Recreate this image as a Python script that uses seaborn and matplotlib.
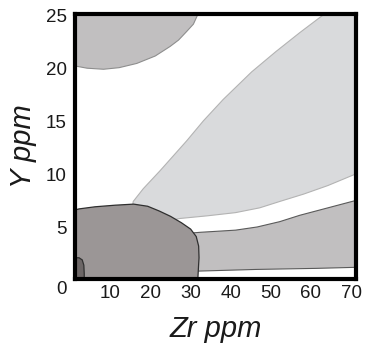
import numpy as np
import matplotlib
matplotlib.use("Agg")
import matplotlib.pyplot as plt
import matplotlib.transforms as mtransforms
import seaborn as sns

# field outlines (Zr ppm, Y ppm)
light_zr = [62.3, 70, 70, 63, 57, 51, 46, 40, 33, 26.2, 22, 14.0, 14.5, 17.0, 21.2, 27.8, 32, 36.9, 44, 50, 56]
light_y = [25, 25, 9.9, 8.8, 8.0, 7.3, 6.7, 6.25, 5.95, 5.7, 5.4, 6.0, 7.3, 8.5, 10.2, 13.0, 14.9, 16.9, 19.5, 21.4, 23.2]

band_zr = [28, 31.3, 40, 45.4, 51, 56, 63, 70, 70, 60, 45, 31.3, 28]
band_y = [4.3, 4.4, 4.6, 4.9, 5.4, 6.0, 6.7, 7.4, 1.1, 1.0, 0.9, 0.75, 0.7]

top_zr = [0, 30.7, 29.5, 27.8, 25.8, 23.7, 20, 15.4, 11, 7.1, 3, 0]
top_y = [25, 25, 24.0, 23.3, 22.5, 21.9, 21.0, 20.3, 19.9, 19.75, 19.85, 20.06]

dark_zr = [0, 0, 1, 5, 10, 14.6, 18.1, 21, 23.8, 26.5, 28.8, 30.2, 30.8, 30.9, 30.8, 30.6]
dark_y = [0, 6.5, 6.6, 6.8, 6.95, 7.05, 6.85, 6.4, 5.9, 5.3, 4.7, 4.0, 3.1, 2.0, 1.4, 0]

tiny_zr = [0, 0, 1, 1.8, 2.2, 2.3, 2.3]
tiny_y = [0, 2.0, 2.0, 1.8, 1.3, 0.5, 0]

xticks = [10, 20, 30, 40, 50, 60, 70]
yticks = [0, 5, 10, 15, 20, 25]

sns.set_theme(style="white")
plt.rcParams['font.family'] = ['Liberation Sans', 'DejaVu Sans']

fig = plt.figure(figsize=(3.65, 3.56), dpi=100)
ax = fig.add_axes([75 / 365, 77 / 356, 281 / 365, 265.5 / 356])

ax.fill(light_zr, light_y, facecolor="#d9dadc", edgecolor="#b3b3b3", linewidth=0.8, zorder=1)
ax.fill(band_zr, band_y, facecolor="#c1bfc0", edgecolor="#5a5a5a", linewidth=0.8, zorder=2)
ax.fill(top_zr, top_y, facecolor="#c1bfc0", edgecolor="#8e8e8e", linewidth=0.8, zorder=2)
ax.fill(dark_zr, dark_y, facecolor="#9b9696", edgecolor="#2f2f2f", linewidth=0.9, zorder=3)
ax.fill(tiny_zr, tiny_y, facecolor="#6c6666", edgecolor="#2f2f2f", linewidth=0.9, zorder=4)

ax.set_xlim(0, 70)
ax.set_ylim(0, 25)
ax.set_xticks(xticks)
ax.set_yticks(yticks)
ax.tick_params(axis='both', length=0, labelsize=13.5, colors='#1a1a1a')
ax.tick_params(axis='x', pad=4)
ax.tick_params(axis='y', pad=6)

# labels sit a little left / low of their ticks in the original
for lab in ax.get_xticklabels():
    lab.set_transform(lab.get_transform() + mtransforms.ScaledTranslation(-5 / 100, 0, fig.dpi_scale_trans))
for lab in ax.get_yticklabels():
    off = -8 if lab.get_text() == '0' else -2
    lab.set_transform(lab.get_transform() + mtransforms.ScaledTranslation(0, off / 100, fig.dpi_scale_trans))

for s in ax.spines.values():
    s.set_color("black")
    s.set_linewidth(3)
    s.set_zorder(10)

ax.set_xlabel("Zr ppm", fontsize=21, style='italic', color='#1a1a1a', labelpad=10)
ax.set_ylabel("Y ppm", fontsize=21, style='italic', color='#1a1a1a', labelpad=6)

fig.savefig("out.png", dpi=100)
